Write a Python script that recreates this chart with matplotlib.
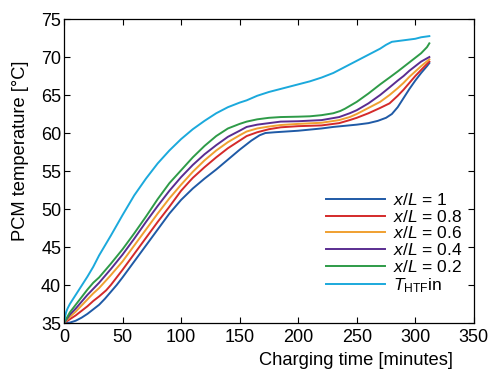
import numpy as np
import matplotlib
matplotlib.use('Agg')
import matplotlib.pyplot as plt

plt.rcParams['font.family'] = 'Liberation Sans'
plt.rcParams['mathtext.fontset'] = 'custom'
plt.rcParams['mathtext.rm'] = 'Liberation Sans'
plt.rcParams['mathtext.it'] = 'Liberation Sans:italic'

# values (time in minutes, temperature in deg C)
t_1 = [0, 5, 10, 15, 20, 25, 30, 35, 40, 45, 50, 60, 70, 80, 90, 100, 110, 120, 130, 140, 150, 160,
       167, 172, 180, 190, 200, 210, 220, 230, 240, 250, 260, 268, 275, 280, 285, 290, 295, 300, 305, 310, 312]
T_1 = [35.0, 35.05, 35.3, 35.7, 36.2, 36.8, 37.4, 38.2, 39.1, 40.0, 41.0, 43.1, 45.2, 47.3, 49.4, 51.2, 52.7, 54.0,
       55.2, 56.5, 57.8, 59.0, 59.7, 60.0, 60.1, 60.2, 60.3, 60.45, 60.6, 60.8, 60.95, 61.1, 61.3, 61.6, 62.0, 62.5,
       63.4, 64.6, 65.8, 66.9, 67.9, 68.8, 69.2]

t_08 = [0, 5, 10, 15, 20, 25, 30, 36, 40, 50, 60, 70, 80, 90, 100, 107, 110, 120, 130, 140, 150, 156, 165, 175,
        185, 200, 220, 235, 244, 250, 260, 270, 278, 285, 290, 295, 300, 305, 312]
T_08 = [35.0, 35.5, 36.0, 36.6, 37.2, 37.9, 38.5, 39.3, 40.0, 42.0, 44.1, 46.2, 48.3, 50.3, 52.4, 53.6, 54.1, 55.5,
        56.8, 58.0, 59.0, 59.6, 60.1, 60.5, 60.75, 60.9, 61.0, 61.3, 61.7, 62.0, 62.6, 63.3, 63.9, 64.9, 65.7, 66.6,
        67.5, 68.3, 69.4]

t_06 = [0, 5, 10, 15, 20, 25, 30, 40, 50, 60, 70, 80, 90, 100, 110, 120, 130, 140, 150, 156, 165, 175, 185, 200,
        220, 235, 244, 250, 260, 270, 278, 285, 290, 295, 300, 305, 312]
T_06 = [35.0, 35.8, 36.5, 37.3, 38.1, 38.9, 39.6, 41.3, 43.1, 45.2, 47.3, 49.4, 51.4, 53.2, 54.9, 56.4, 57.7, 58.8,
        59.7, 60.2, 60.6, 60.85, 61.05, 61.2, 61.35, 61.7, 62.1, 62.5, 63.3, 64.1, 65.0, 65.9, 66.6, 67.4, 68.1, 68.8,
        69.7]

t_04 = [0, 5, 10, 15, 20, 25, 30, 40, 50, 60, 70, 80, 90, 100, 110, 120, 130, 140, 150, 156, 165, 175, 185, 200,
        220, 235, 244, 250, 260, 270, 278, 285, 290, 295, 300, 305, 312]
T_04 = [35.0, 36.1, 36.9, 37.8, 38.7, 39.5, 40.3, 42.1, 44.0, 46.1, 48.3, 50.4, 52.4, 54.2, 55.8, 57.2, 58.4, 59.5,
        60.3, 60.8, 61.1, 61.3, 61.5, 61.55, 61.7, 62.1, 62.6, 63.0, 63.9, 65.0, 66.0, 66.9, 67.5, 68.2, 68.8, 69.4,
        70.0]

t_02 = [0, 5, 10, 15, 20, 25, 30, 40, 50, 60, 70, 80, 90, 100, 110, 120, 130, 140, 150, 156, 165, 175, 185, 200,
        210, 220, 230, 236, 240, 250, 260, 270, 278, 285, 290, 295, 300, 305, 310, 312]
T_02 = [35.0, 36.4, 37.4, 38.4, 39.4, 40.3, 41.0, 42.8, 44.7, 46.8, 49.0, 51.3, 53.4, 55.1, 56.8, 58.3, 59.6, 60.6,
        61.2, 61.5, 61.8, 62.0, 62.1, 62.15, 62.2, 62.35, 62.6, 62.9, 63.2, 64.1, 65.2, 66.4, 67.3, 68.1, 68.7, 69.3,
        69.9, 70.5, 71.3, 71.8]

t_in = [0, 1, 2, 3, 5, 10, 15, 20, 25, 30, 40, 50, 60, 70, 80, 90, 100, 110, 120, 130, 140, 150, 156, 165, 175,
        185, 200, 210, 220, 230, 240, 250, 260, 270, 275, 280, 285, 290, 300, 305, 312]
T_in = [35.0, 35.9, 36.5, 36.9, 37.5, 38.7, 39.9, 41.1, 42.4, 43.9, 46.5, 49.2, 51.8, 54.0, 56.0, 57.7, 59.2, 60.5,
        61.6, 62.6, 63.4, 64.0, 64.3, 64.9, 65.4, 65.8, 66.4, 66.8, 67.3, 67.9, 68.7, 69.5, 70.3, 71.1, 71.6, 72.0,
        72.1, 72.2, 72.4, 72.6, 72.75]

series = [
    (t_1, T_1, '#1f5aa6', r'$x/L$ = 1'),
    (t_08, T_08, '#d42a2a', r'$x/L$ = 0.8'),
    (t_06, T_06, '#f0a030', r'$x/L$ = 0.6'),
    (t_04, T_04, '#5a2d91', r'$x/L$ = 0.4'),
    (t_02, T_02, '#2e9b48', r'$x/L$ = 0.2'),
    (t_in, T_in, '#1ba9dc', r'$T_{\rm HTF}$in'),
]

fig = plt.figure(figsize=(4.9, 3.7), dpi=100)
ax = fig.add_axes([0.1306, 0.127, 0.8364, 0.8216])

for t, T, c, lab in series:
    ax.plot(t, T, color=c, lw=1.4, label=lab, solid_joinstyle='round')

ax.set_xlim(0, 350)
ax.set_ylim(35, 75)
ax.set_xticks(np.arange(0, 351, 50))
ax.set_yticks(np.arange(35, 76, 5))
ax.tick_params(direction='in', top=True, right=True, labelsize=13, length=4, width=0.8, pad=2)
ax.tick_params(axis='x', pad=4)
for s in ax.spines.values():
    s.set_linewidth(0.9)

ax.set_xlabel('Charging time [minutes]', fontsize=13.2, va='center')
ax.xaxis.set_label_coords(0.712, -0.124)
ax.set_ylabel('PCM temperature [°C]', fontsize=13.2, va='center')
ax.yaxis.set_label_coords(-0.107, 0.566)

ax.legend(loc='lower right', bbox_to_anchor=(0.99, 0.07), frameon=False, fontsize=12.5,
          handlelength=3.4, handletextpad=0.5, labelspacing=0.05, borderaxespad=0)

fig.savefig('out.png', dpi=100)
